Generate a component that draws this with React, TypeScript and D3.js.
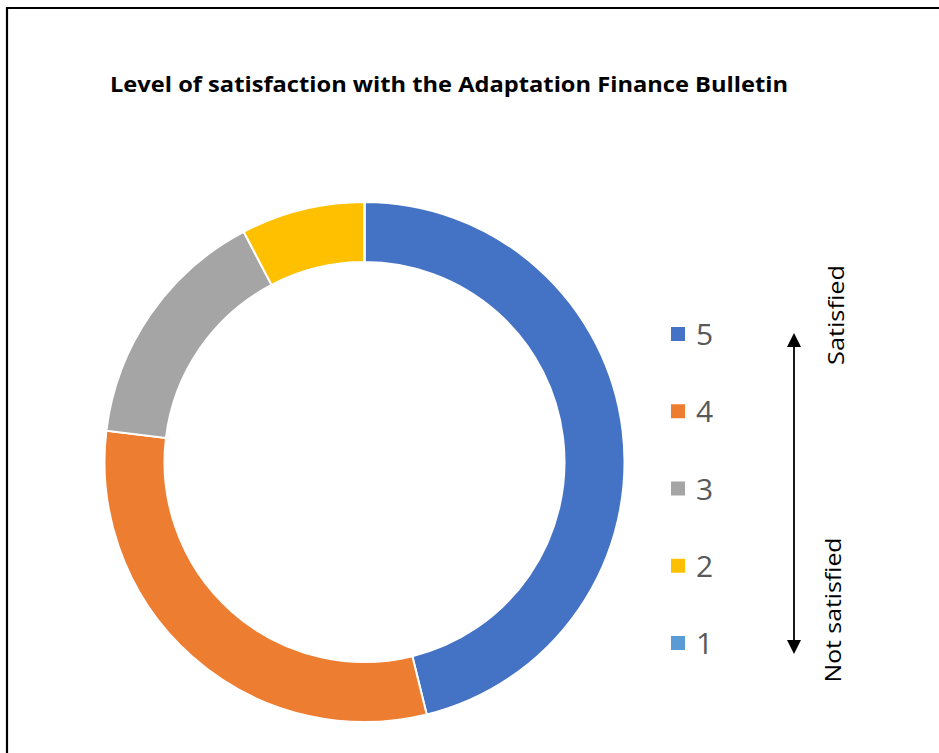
import React from 'react';
import * as d3 from 'd3';

const categories = ['5', '4', '3', '2', '1'];
const values = [12, 8, 4, 2, 0];
const colors = ['#4472C4', '#ED7D31', '#A5A5A5', '#FFC000', '#5B9BD5'];
const title = 'Level of satisfaction with the Adaptation Finance Bulletin';
const topLabel = 'Satisfied';
const bottomLabel = 'Not satisfied';

export default function App() {
  const W = 939, H = 753;
  const cx = 364.5, cy = 462;
  const pie = d3.pie<number>().sort(null).value((d) => d);
  const arcs = pie(values);
  const arc = d3.arc<d3.PieArcDatum<number>>().innerRadius(200).outerRadius(260);
  const legendY = d3.scalePoint<string>().domain(categories).range([334, 643]);
  const ax = 794, aTop = 333, aBot = 654;
  return (
    <svg width={W} height={H} style={{ position: 'absolute', left: 0, top: 0, background: '#fff' }}>
      <rect x={0} y={0} width={W} height={H} fill="#fff" />
      <path d={`M7,${H} L7,8 L${W},8`} fill="none" stroke="#000" strokeWidth={2.2} />
      <text x={110} y={92} fontFamily="'Open Sans', sans-serif" fontWeight={700} fontSize={22}
        textLength={678} lengthAdjust="spacingAndGlyphs" fill="#000">{title}</text>
      <g transform={`translate(${cx},${cy})`}>
        {arcs.map((a, i) => (
          <path key={i} d={arc(a) || ''} fill={colors[i]} stroke="#fff" strokeWidth={2} />
        ))}
      </g>
      {categories.map((c, i) => (
        <g key={c}>
          <rect x={671} y={(legendY(c) as number) - 7} width={14} height={14} fill={colors[i]} />
          <text x={696} y={(legendY(c) as number) + 11} fontFamily="'Open Sans', sans-serif" fontSize={30} fill="#595959">{c}</text>
        </g>
      ))}
      <line x1={ax} x2={ax} y1={aTop + 10} y2={aBot - 10} stroke="#000" strokeWidth={1.8} />
      <polygon points={`${ax},${aTop} ${ax - 7},${aTop + 14} ${ax + 7},${aTop + 14}`} fill="#000" />
      <polygon points={`${ax},${aBot} ${ax - 7},${aBot - 14} ${ax + 7},${aBot - 14}`} fill="#000" />
      <text transform={`translate(844,315) rotate(-90)`} textAnchor="middle" fontFamily="'Open Sans', sans-serif" fontSize={22}
        textLength={100} lengthAdjust="spacingAndGlyphs" fill="#000">{topLabel}</text>
      <text transform={`translate(841,610) rotate(-90)`} textAnchor="middle" fontFamily="'Open Sans', sans-serif" fontSize={22}
        textLength={145} lengthAdjust="spacingAndGlyphs" fill="#000">{bottomLabel}</text>
    </svg>
  );
}
